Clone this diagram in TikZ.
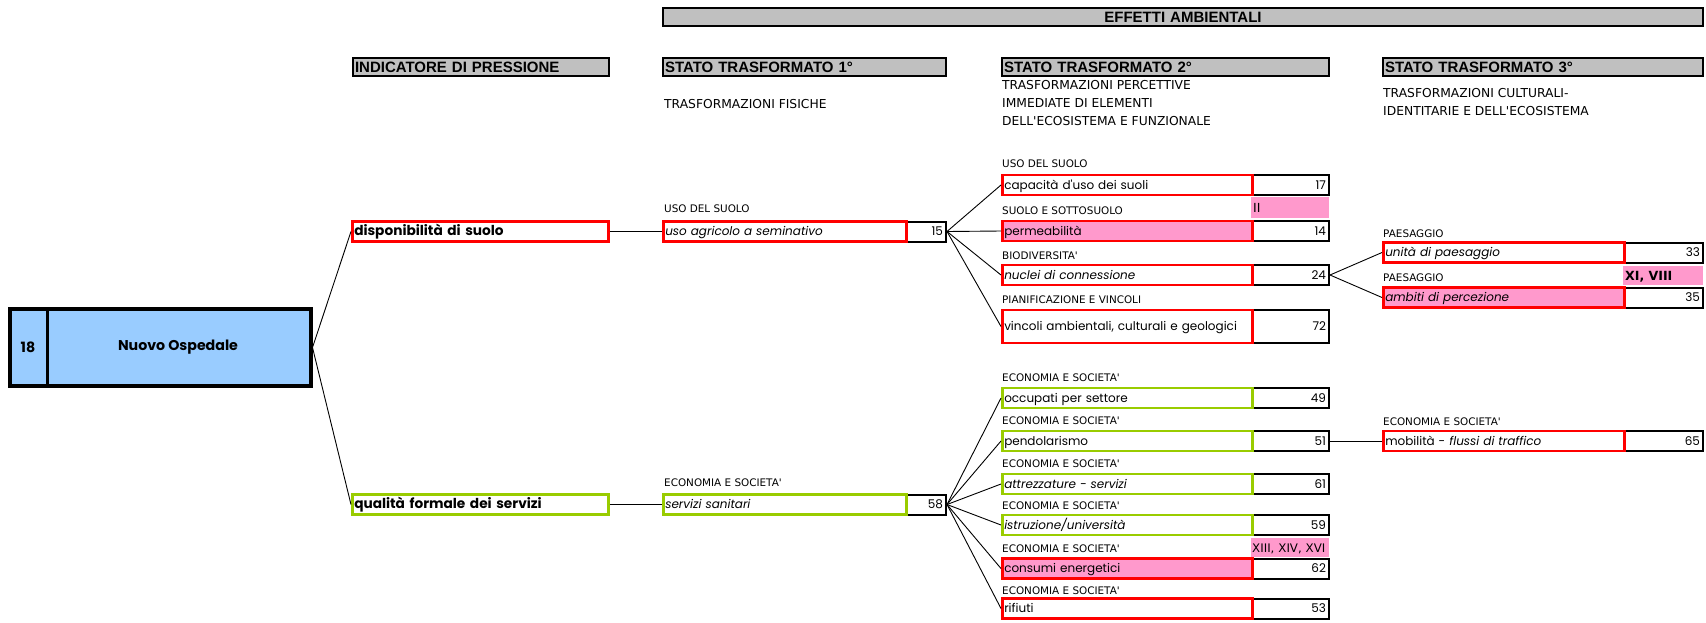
\documentclass[tikz,border=0pt]{standalone}
\usepackage{fontspec}
\setmainfont{Poppins}[Ligatures=TeXOff]
\newfontfamily\hdrfont{Liberation Sans}[Ligatures=TeXOff]
\newfontfamily\labfont{DejaVu Sans}[Ligatures=TeXOff]
\definecolor{myred}{HTML}{FF0000}
\definecolor{mygreen}{HTML}{99CC00}
\definecolor{mypink}{HTML}{FF99CC}
\definecolor{mygray}{HTML}{C0C0C0}
\definecolor{myblue}{HTML}{99CCFF}
\newcommand\myBody{\fontsize{12}{15}\selectfont}
\newcommand\myLab{\labfont\fontsize{10.4}{12}\selectfont}
\newcommand\mySub{\labfont\fontsize{12.3}{14}\selectfont}
\tikzset{
  hdr/.style={draw=black, line width=2pt, fill=mygray, anchor=west, inner xsep=2pt, inner ysep=0pt,
    minimum height=18pt, text width=#1, align=left, text height=10.5pt, text depth=0pt,
    font=\hdrfont\bfseries\fontsize{15}{16}\selectfont},
  rb/.style={draw=myred, line width=2.5pt, anchor=west, inner xsep=2pt, inner ysep=0pt,
    text width=#1, align=left, minimum height=20pt, text height=10.5pt, text depth=2pt, font=\myBody},
  gb/.style={rb=#1, draw=mygreen},
  nb/.style={draw=black, line width=2pt, anchor=west, inner xsep=3pt, inner ysep=0pt,
    text width=#1, align=right, minimum height=20pt, text height=10.5pt, text depth=2pt, font=\myBody},
  pk/.style={fill=mypink, anchor=west, inner xsep=2pt, inner ysep=0pt, text width=#1, align=left,
    minimum height=19pt, text height=9.5pt, text depth=0pt, font=\labfont\fontsize{12.5}{14}\selectfont},
  lab/.style={anchor=base west, inner sep=0pt, font=\myLab},
  sub/.style={anchor=base west, inner sep=0pt, font=\mySub, align=left},
  con/.style={draw=black, line width=0.9pt},
  bld/.style={font=\bfseries\fontsize{13.7}{15}\selectfont},
}
\begin{document}
\begin{tikzpicture}[x=1pt,y=-1pt]
\useasboundingbox (0,0) rectangle (1706,622);

% headers
\node[hdr=1036pt, align=center, text height=10pt] (effetti) at (662,17) {EFFETTI AMBIENTALI};
\node[hdr=252pt] (hind) at (352,67) {INDICATORE DI PRESSIONE};
\node[hdr=279pt] (hst1) at (662,67) {STATO TRASFORMATO 1°};
\node[hdr=323pt] (hst2) at (1001,67) {STATO TRASFORMATO 2°};
\node[hdr=316pt] (hst3) at (1382,67) {STATO TRASFORMATO 3°};

% subtitles
\node[sub] (s1) at (664,108) {TRASFORMAZIONI FISICHE};
\node[sub] (s2a) at (1002,89) {TRASFORMAZIONI PERCETTIVE};
\node[sub] (s2b) at (1002,107) {IMMEDIATE DI ELEMENTI};
\node[sub] (s2c) at (1002,125) {DELL'ECOSISTEMA E FUNZIONALE};
\node[sub] (s3a) at (1383,97) {TRASFORMAZIONI CULTURALI-};
\node[sub] (s3b) at (1383,115) {IDENTITARIE E DELL'ECOSISTEMA};

% main box
\node[draw=black, line width=3pt, fill=myblue, anchor=west, minimum width=302pt, minimum height=78pt, inner sep=0pt] (nuovo) at (7.5,347.5) {};
\draw[line width=1pt] ([shift={(3.5,3.5)}]nuovo.north west) rectangle ([shift={(-3.5,-3.5)}]nuovo.south east);
\draw[line width=3pt] ([xshift=40pt]nuovo.north west) -- ([xshift=40pt]nuovo.south west);
\node[bld, font=\bfseries\fontsize{14.2}{16}\selectfont, inner sep=0pt] (n18) at (28,347.5) {18};
\node[bld, font=\bfseries\fontsize{14.2}{16}\selectfont, inner sep=0pt] (nuovotxt) at (178,347.5) {Nuovo Ospedale};

% level 1
\node[rb=252pt, bld] (disp) at (351,231.5) {disponibilità di suolo};
\node[gb=252pt, bld] (qual) at (351,504.5) {qualità formale dei servizi};

% level 2
\node[lab] (l21) at (664,212) {USO DEL SUOLO};
\node[nb=34pt] (n15) at (905,231.5) {15};
\node[rb=239pt] (agr) at (662,231.5) {\itshape uso agricolo a seminativo};
\node[lab] (l22) at (664,486) {ECONOMIA E SOCIETA'};
\node[nb=34pt] (n58) at (905,504.5) {58};
\node[gb=239pt] (san) at (662,504.5) {\itshape servizi sanitari};

% level 3 upper
\node[lab] (l31) at (1002,167) {USO DEL SUOLO};
\node[nb=71pt] (n17) at (1251,185) {17};
\node[rb=246pt] (cap) at (1001,185) {capacità d'uso dei suoli};
\node[lab] (l32) at (1002,214) {SUOLO E SOTTOSUOLO};
\node[pk=74pt, minimum height=21pt] (ii) at (1251,207.5) {II};
\node[nb=71pt] (n14) at (1251,231) {14};
\node[rb=246pt, fill=mypink] (perm) at (1001,231) {permeabilità};
\node[lab] (l33) at (1002,259) {BIODIVERSITA'};
\node[nb=71pt] (n24) at (1251,275) {24};
\node[rb=246pt] (nucl) at (1001,275) {\itshape nuclei di connessione};
\node[lab] (l34) at (1002,303) {PIANIFICAZIONE E VINCOLI};
\node[nb=71pt, minimum height=33pt] (n72) at (1251,326.5) {72};
\node[rb=246pt, minimum height=33pt] (vinc) at (1001,326.5) {vincoli ambientali, culturali e geologici};

% level 3 lower
\node[lab] (l35) at (1002,381) {ECONOMIA E SOCIETA'};
\node[nb=71pt] (n49) at (1251,398) {49};
\node[gb=246pt] (occ) at (1001,398) {occupati per settore};
\node[lab] (l36) at (1002,424) {ECONOMIA E SOCIETA'};
\node[nb=71pt] (n51) at (1251,441) {51};
\node[gb=246pt] (pend) at (1001,441) {pendolarismo};
\node[lab] (l37) at (1002,467) {ECONOMIA E SOCIETA'};
\node[nb=71pt] (n61) at (1251,484) {61};
\node[gb=246pt] (attr) at (1001,484) {\itshape attrezzature - servizi};
\node[lab] (l38) at (1002,509) {ECONOMIA E SOCIETA'};
\node[nb=71pt] (n59) at (1251,525) {59};
\node[gb=246pt] (istr) at (1001,525) {\itshape istruzione/università};
\node[lab] (l39) at (1002,552) {ECONOMIA E SOCIETA'};
\node[pk=76pt, inner xsep=1pt, font=\labfont\fontsize{11.8}{14}\selectfont] (xiii) at (1251,547.5) {\mbox{XIII, XIV, XVI}};
\node[nb=71pt] (n62) at (1251,568.5) {62};
\node[rb=246pt, fill=mypink] (cons) at (1001,568.5) {consumi energetici};
\node[lab] (l310) at (1002,594) {ECONOMIA E SOCIETA'};
\node[nb=71pt] (n53) at (1251,608.5) {53};
\node[rb=246pt] (rif) at (1001,608.5) {rifiuti};

% level 4
\node[lab] (l41) at (1383,237) {PAESAGGIO};
\node[nb=73pt] (n33) at (1623,252.5) {33};
\node[rb=237pt] (unita) at (1382,252.5) {\itshape unità di paesaggio};
\node[lab] (l42) at (1383,281) {PAESAGGIO};
\node[pk=76pt, font=\labfont\bfseries\fontsize{12.6}{14}\selectfont, text height=10pt] (xi) at (1623,275.5) {XI, VIII};
\node[nb=73pt] (n35) at (1623,297.5) {35};
\node[rb=237pt, fill=mypink] (amb) at (1382,297.5) {\itshape ambiti di percezione};
\node[lab] (l43) at (1383,425) {ECONOMIA E SOCIETA'};
\node[nb=73pt] (n65) at (1623,441) {65};
\node[rb=237pt] (mob) at (1382,441) {mobilità - \textit{flussi di traffico}};

% connectors
\draw[con] (nuovo.east) -- (disp.west);
\draw[con] (nuovo.east) -- (qual.west);
\draw[con] (disp.east) -- (agr.west);
\draw[con] (qual.east) -- (san.west);
\foreach \t in {cap,perm,nucl,vinc} \draw[con] (n15.east) -- (\t.west);
\foreach \t in {occ,pend,attr,istr,cons,rif} \draw[con] (n58.east) -- (\t.west);
\draw[con] (n24.east) -- (unita.west);
\draw[con] (n24.east) -- (amb.west);
\draw[con] (n51.east) -- (mob.west);
\end{tikzpicture}
\end{document}
